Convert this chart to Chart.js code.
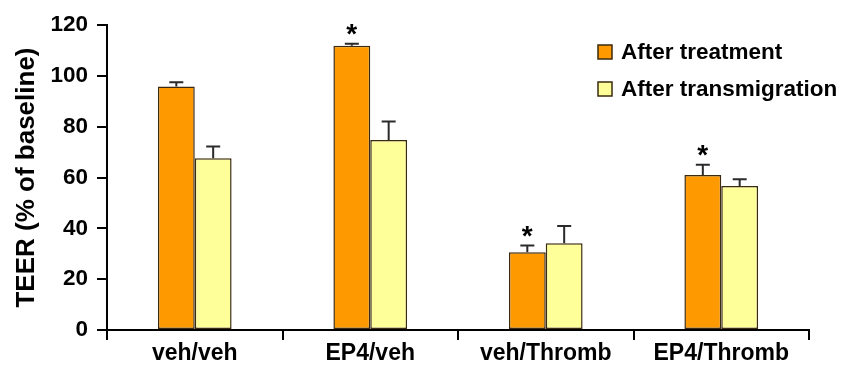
<!DOCTYPE html>
<html>
<head>
<meta charset="utf-8">
<script src="https://cdn.jsdelivr.net/npm/chart.js@4"></script>
<style>
html,body{margin:0;padding:0;background:#fff;}
#wrap{width:845px;height:378px;}
</style>
</head>
<body>
<div id="wrap"><canvas id="c" width="845" height="378"></canvas></div>
<script>
const categories = ["veh/veh", "EP4/veh", "veh/Thromb", "EP4/Thromb"];
const afterTreatment = [95.8, 111.8, 30.6, 61.0];
const afterTreatmentErr = [1.7, 0.8, 2.6, 4.0];
const afterTransmigration = [67.6, 74.8, 34.1, 56.7];
const afterTransmigrationErr = [4.6, 7.2, 6.8, 2.6];
const significant = [false, true, true, true];
const yTicks = [0, 20, 40, 60, 80, 100, 120];

const FONT = "'Liberation Sans', Arial, sans-serif";

const errorBarPlugin = {
  id: 'errorBars',
  afterDatasetsDraw(chart) {
    const ctx = chart.ctx;
    const y = chart.scales.y;
    chart.data.datasets.forEach((ds, di) => {
      const meta = chart.getDatasetMeta(di);
      meta.data.forEach((bar, i) => {
        const v = ds.data[i], e = ds.errors[i];
        const top = y.getPixelForValue(v + e);
        ctx.save();
        ctx.strokeStyle = '#2a2a2a';
        ctx.lineWidth = 2;
        ctx.beginPath();
        ctx.moveTo(bar.x, bar.y);
        ctx.lineTo(bar.x, top);
        ctx.moveTo(bar.x - 7, top);
        ctx.lineTo(bar.x + 7, top);
        ctx.stroke();
        if (ds.stars && ds.stars[i]) {
          ctx.fillStyle = '#000';
          ctx.font = 'bold 28px ' + FONT;
          ctx.textAlign = 'center';
          ctx.textBaseline = 'alphabetic';
          ctx.fillText('*', bar.x, top - 1);
        }
        ctx.restore();
      });
    });
  }
};

const legendPlugin = {
  id: 'customLegend',
  afterDraw(chart) {
    const ctx = chart.ctx;
    const rows = [52, 89];
    chart.data.datasets.forEach((ds, di) => {
      const cy = rows[di];
      ctx.save();
      ctx.fillStyle = ds.backgroundColor;
      ctx.strokeStyle = '#3a2a10';
      ctx.lineWidth = 1.5;
      ctx.fillRect(598, cy - 7, 14, 14);
      ctx.strokeRect(598, cy - 7, 14, 14);
      ctx.fillStyle = '#000';
      ctx.font = 'bold 22.5px ' + FONT;
      ctx.textBaseline = 'middle';
      ctx.textAlign = 'left';
      ctx.fillText(ds.label, 621, cy + 1);
      ctx.restore();
    });
  }
};

new Chart(document.getElementById('c'), {
  type: 'bar',
  data: {
    labels: categories,
    datasets: [
      { label: 'After treatment', data: afterTreatment, errors: afterTreatmentErr, stars: significant,
        backgroundColor: '#FF9900', borderColor: '#3a2a10', borderWidth: 1.5, borderSkipped: false },
      { label: 'After transmigration', data: afterTransmigration, errors: afterTransmigrationErr,
        backgroundColor: '#FFFF99', borderColor: '#3a2a10', borderWidth: 1.5, borderSkipped: false }
    ]
  },
  options: {
    responsive: false,
    animation: false,
    events: [],
    layout: { padding: { top: 25, right: 36, left: 0, bottom: 0 } },
    plugins: { legend: { display: false }, tooltip: { enabled: false } },
    datasets: { bar: { categoryPercentage: 0.42, barPercentage: 1.0 } },
    scales: {
      x: {
        offset: true,
        grid: { offset: true, drawOnChartArea: false, drawTicks: true, tickLength: 10, color: '#000', lineWidth: 2 },
        border: { display: true, color: '#000', width: 2 },
        ticks: { color: '#000', font: { family: FONT, weight: 'bold', size: 23 }, padding: 0 },
        afterFit(scale) { scale.height = 48; }
      },
      y: {
        min: 0, max: 120,
        afterBuildTicks(scale) { scale.ticks = yTicks.map(v => ({ value: v })); },
        grid: { drawOnChartArea: false, drawTicks: true, tickLength: 10, color: '#000', lineWidth: 2 },
        border: { display: true, color: '#000', width: 2 },
        ticks: { color: '#000', font: { family: FONT, weight: 'bold', size: 22.5 }, padding: 9 },
        title: { display: true, text: 'TEER (% of baseline)', color: '#000', font: { family: FONT, weight: 'bold', size: 26 }, padding: { top: 11, bottom: 0 } },
        afterFit(scale) { scale.width = 107; }
      }
    }
  },
  plugins: [errorBarPlugin, legendPlugin]
});
</script>
</body>
</html>
